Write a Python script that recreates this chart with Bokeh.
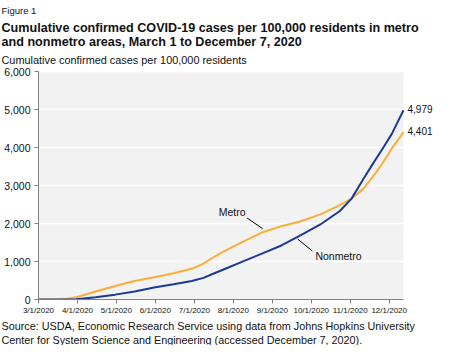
from bokeh.plotting import figure
from bokeh.models import Range1d, FixedTicker, NumeralTickFormatter, Label, Title
from bokeh.embed import file_html
from bokeh.resources import INLINE

# ---- data ----
tick_days = [0, 30, 60, 90, 120, 150, 180, 210, 240, 270]
tick_labels = ["3/1/2020", "4/1/2020", "5/1/2020", "6/1/2020", "7/1/2020",
               "8/1/2020", "9/1/2020", "10/1/2020", "11/1/2020", "12/1/2020"]
y_ticks = [0, 1000, 2000, 3000, 4000, 5000, 6000]

metro_days = [0, 14, 20, 29, 44, 59, 74, 89, 104, 118, 127, 134, 142, 149, 160,
              172, 187, 202, 217, 232, 241, 250, 257, 265, 272, 281]
metro_vals = [0, 0, 10, 60, 212, 357, 485, 587, 689, 808, 945, 1098, 1251, 1379, 1560,
              1762, 1930, 2060, 2240, 2485, 2655, 2911, 3209, 3592, 3975, 4401]

nonmetro_days = [0, 29, 44, 59, 74, 89, 104, 118, 127, 134, 142, 157, 172, 187,
                 202, 217, 232, 241, 250, 257, 265, 272, 281]
nonmetro_vals = [0, 5, 60, 128, 212, 315, 400, 485, 570, 672, 783, 996, 1209, 1422,
                 1693, 1974, 2330, 2655, 3166, 3549, 3975, 4358, 4979]

metro_color = "#FBAD3A"
nonmetro_color = "#1B3A93"
FONT = "Liberation Sans"
TXT = "#111111"

W, H = 434, 345
LEFT = 38
last_day = metro_days[-1]
frame_w = W - LEFT
x_end = last_day * frame_w / 365  # grey area ends before the right edge, leaving room for end labels

p = figure(width=W, height=H, output_backend="svg", toolbar_location=None,
           x_range=Range1d(0, x_end), y_range=Range1d(0, y_ticks[-1]),
           min_border_left=LEFT, min_border_right=0, min_border_top=0, min_border_bottom=0,
           background_fill_color="white", border_fill_color="white")
p.outline_line_color = None
p.xgrid.grid_line_color = None
p.ygrid.grid_line_color = None

p.yaxis.ticker = FixedTicker(ticks=y_ticks)
p.yaxis.formatter = NumeralTickFormatter(format="0,0")
p.yaxis.major_label_text_font = FONT
p.yaxis.major_label_text_font_size = "10.5px"
p.yaxis.major_label_text_color = TXT
p.yaxis.axis_line_color = "#808080"
p.yaxis.major_tick_line_color = "#808080"
p.yaxis.major_tick_out = 4
p.yaxis.major_tick_in = 0
p.yaxis.minor_tick_line_color = None
p.yaxis.major_label_standoff = 4

p.xaxis.ticker = FixedTicker(ticks=tick_days)
p.xaxis.bounds = (0, last_day)
p.xaxis.major_label_overrides = {d: l for d, l in zip(tick_days, tick_labels)}
p.xaxis.major_label_text_font = FONT
p.xaxis.major_label_text_font_size = "8px"
p.xaxis.major_label_text_color = TXT
p.xaxis.axis_line_color = "#808080"
p.xaxis.major_tick_line_color = "#808080"
p.xaxis.major_tick_out = 4
p.xaxis.major_tick_in = 0
p.xaxis.minor_tick_line_color = None
p.xaxis.major_label_standoff = 2

# grey plotting area and white gridlines
p.quad(left=[0], right=[last_day], bottom=[0], top=[y_ticks[-1]],
       fill_color="#F2F2F2", line_color=None)
p.segment(x0=[0] * (len(y_ticks) - 1), x1=[last_day] * (len(y_ticks) - 1),
          y0=y_ticks[1:], y1=y_ticks[1:], line_color="white", line_width=1.5)

p.line(metro_days, metro_vals, line_color=metro_color, line_width=2)
p.line(nonmetro_days, nonmetro_vals, line_color=nonmetro_color, line_width=2)

# leader lines and series labels
p.segment(x0=[160.6, 199.5], y0=[2145, 1591], x1=[172.6, 210.8], y1=[1864, 1277],
          line_color="black", line_width=1)
p.add_layout(Label(x=138.7, y=2290, text="Metro", text_font=FONT, text_font_size="10.5px",
                   text_baseline="middle", text_align="left", text_color=TXT))
p.add_layout(Label(x=213.2, y=1141, text="Nonmetro", text_font=FONT, text_font_size="10.5px",
                   text_baseline="middle", text_align="left", text_color=TXT))

# end-value labels
p.add_layout(Label(x=nonmetro_days[-1], y=nonmetro_vals[-1], x_offset=4, y_offset=1,
                   text=f"{nonmetro_vals[-1]:,}", text_font=FONT, text_font_size="10px",
                   text_baseline="middle", text_color=TXT))
p.add_layout(Label(x=metro_days[-1], y=metro_vals[-1], x_offset=4, y_offset=1,
                   text=f"{metro_vals[-1]:,}", text_font=FONT, text_font_size="10px",
                   text_baseline="middle", text_color=TXT))


# titles and notes (later "above" entries sit further from the plot)
def title(text, where, size, bold=False, standoff=0, valign="top"):
    p.add_layout(Title(text=text, align="left", offset=-(LEFT - 1), text_font=FONT,
                       text_font_size=size, text_font_style="bold" if bold else "normal",
                       text_color=TXT, standoff=standoff, vertical_align=valign), where)


title("Cumulative confirmed cases per 100,000 residents", "above", "10.9px", standoff=8)
title("and nonmetro areas, March 1 to December 7, 2020", "above", "12.6px", True, standoff=-2)
title("Cumulative confirmed COVID-19 cases per 100,000 residents in metro", "above", "12.6px", True, standoff=-2)
title("Figure 1", "above", "9.5px", standoff=8)
title("Source: USDA, Economic Research Service using data from Johns Hopkins University",
      "below", "10.8px", standoff=0, valign="bottom")
title("Center for System Science and Engineering (accessed December 7, 2020).",
      "below", "10.8px", standoff=0, valign="bottom")

open("out.html", "w").write(file_html(p, INLINE))
